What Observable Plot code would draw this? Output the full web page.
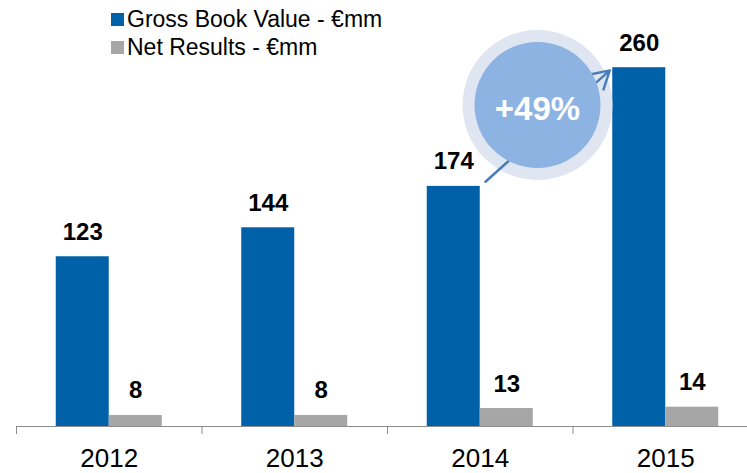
<!DOCTYPE html>
<html>
<head>
<meta charset="utf-8">
<script src="https://cdn.jsdelivr.net/npm/d3@7"></script>
<script src="https://cdn.jsdelivr.net/npm/@observablehq/plot@0.6"></script>
<style>
  html, body { margin: 0; padding: 0; background: #fff; overflow: hidden; }
  #wrap { position: relative; width: 747px; height: 473px; font-family: "Liberation Sans", Arial, sans-serif; }
  .leg { position: absolute; left: 111px; font-size: 23px; line-height: 28px; color: #000; white-space: nowrap; }
  .sw { display: inline-block; width: 13px; height: 13px; margin-right: 3px; vertical-align: 1px; }
</style>
</head>
<body>
<div id="wrap">
  <div class="leg" style="top:5px"><span class="sw" style="background:#0060a8"></span>Gross Book Value - €mm</div>
  <div class="leg" style="top:33px"><span class="sw" style="background:#a6a6a6"></span>Net Results - €mm</div>
</div>
<script>
const years = ["2012", "2013", "2014", "2015"];
const gross = [123, 144, 174, 260];
const net = [8, 8, 13, 14];
const seriesNames = ["Gross Book Value - €mm", "Net Results - €mm"];

const BLUE = "#0060a8", GRAY = "#a6a6a6";
const W = 2 / 7; // bar width as fraction of a category slot

const rows = years.map((year, i) => ({ year, i, gross: gross[i], net: net[i] }));
const edges = years.map((_, i) => i);
const centers = years.map((_, i) => i + 0.5);

const growth = Math.round((gross[3] / gross[2] - 1) * 100);
const ann = [{
  x1: 2 + 0.5, y1: gross[2],
  x2: 3 + 0.5 - W, y2: gross[3],
  label: "+" + growth + "%"
}];
ann.forEach(a => { a.xm = (a.x1 + a.x2) / 2; a.ym = (a.y1 + a.y2) / 2; });

const chart = Plot.plot({
  width: 747,
  height: 473,
  marginLeft: 16,
  marginRight: -11,
  marginTop: 12,
  marginBottom: 47,
  style: { fontFamily: "Liberation Sans, Arial, sans-serif", background: "transparent", overflow: "visible" },
  x: { type: "linear", domain: [0, 4] },
  y: { domain: [0, 300], axis: null },
  marks: [
    Plot.rectY(rows, { x1: d => d.i + 0.5 - W, x2: d => d.i + 0.5, y1: 0, y2: "gross", fill: BLUE }),
    Plot.rectY(rows, { x1: d => d.i + 0.5, x2: d => d.i + 0.5 + W, y1: 0, y2: "net", fill: GRAY }),
    Plot.text(rows, { x: d => d.i + 0.5 - W / 2, y: "gross", text: d => String(d.gross), lineAnchor: "bottom", dy: -17, fontSize: 24, fontWeight: "bold", fill: "#000" }),
    Plot.text(rows, { x: d => d.i + 0.5 + W / 2, y: "net", text: d => String(d.net), lineAnchor: "bottom", dy: -17, fontSize: 24, fontWeight: "bold", fill: "#000" }),
    Plot.ruleY([0], { stroke: "#8c8c8c", strokeWidth: 1 }),
    Plot.axisX(edges, { tickSize: 8, tickFormat: () => "", stroke: "#8c8c8c", label: null }),
    Plot.axisX(centers, { tickSize: 0, tickPadding: 22, tickFormat: d => years[Math.floor(d)], fontSize: 26, fill: "#000", label: null }),
    // growth annotation
    Plot.dot(ann, { x: "xm", y: "ym", r: 75, fill: "#dfe6f1", stroke: null, dx: -9, dy: -22 }),
    Plot.arrow(ann, { x1: "x1", y1: "y1", x2: "x2", y2: "y2", stroke: "#4a7ebb", strokeWidth: 2.5, headLength: 12, insetStart: 7, insetEnd: 4 }),
    Plot.dot(ann, { x: "xm", y: "ym", r: 63, fill: "#8db3e2", stroke: null, dx: -9, dy: -22 }),
    Plot.text(ann, { x: "xm", y: "ym", text: "label", dx: -9, dy: -18, fontSize: 33, fontWeight: "bold", fill: "#fff" })
  ]
});
chart.style.position = "absolute";
chart.style.left = "0";
chart.style.top = "0";
document.getElementById("wrap").prepend(chart);
</script>
</body>
</html>
